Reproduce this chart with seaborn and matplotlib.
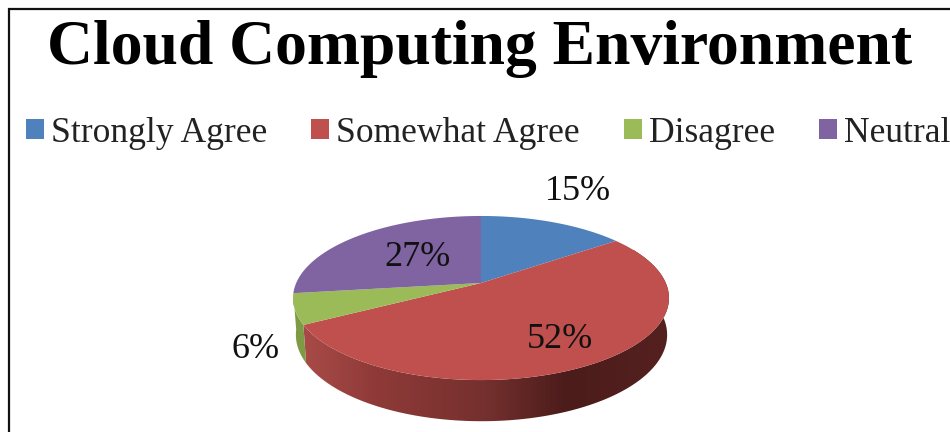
import numpy as np
import matplotlib
matplotlib.use("Agg")
import matplotlib.pyplot as plt
import seaborn as sns
from matplotlib.colors import LinearSegmentedColormap
from matplotlib.patches import Patch, Polygon
from matplotlib.path import Path
from matplotlib.transforms import Transform

# Chart content
TITLE = "Cloud Computing Environment"
categories = ["Strongly Agree", "Somewhat Agree", "Disagree", "Neutral"]
shares = [15, 52, 6, 27]
colors = ["#4f81bd", "#c0504d", "#9bbb59", "#8064a2"]
label_spots = [(578, 191), (560, 339), (256, 349), (418, 257)]

sns.set_theme(style="white")
plt.rcParams["font.family"] = ["Liberation Serif", "DejaVu Serif"]


def project(u, v, top=True):
    """Map unit-disc coordinates onto the tilted pie, in pixel-like data units."""
    k = 0.183
    d = 1 + k * v
    if top:
        return 481 + 184.8 * u / d, 283 - 79.3 * v / d
    return 481.5 + 182.5 * u / d, 319 - 83.5 * v / d


class TiltedDisc(Transform):
    input_dims = 2
    output_dims = 2
    is_separable = False
    has_inverse = False

    def transform_non_affine(self, values):
        x, y = project(values[:, 0], values[:, 1])
        return np.column_stack([x, y])

    def transform_path_non_affine(self, path):
        # Flatten the arc at a fine scale before bending it
        fine = Path(path.vertices * 2000, path.codes)
        pts = np.vstack(fine.to_polygons(closed_only=False)) / 2000
        return Path(self.transform_non_affine(pts))


fig = plt.figure(figsize=(9.5, 4.32), dpi=100)
ax = fig.add_axes([0, 0, 1, 1])

wedges, _ = ax.pie(shares, colors=colors, startangle=90, counterclock=False,
                   radius=1, wedgeprops={"linewidth": 0})
ax.set_aspect("auto")
ax.set_xlim(0, 950)
ax.set_ylim(432, 0)
tilt = TiltedDisc()
for w in wedges:
    w.set_transform(tilt + ax.transData)
    w.set_zorder(3)

# Side wall, built from the slice angles returned by the pie
red, green = wedges[1], wedges[2]


def wall_outline(a0, a1):
    t = np.radians(np.linspace(a0, a1, 160))
    top = np.column_stack(project(np.cos(t), np.sin(t)))
    low = np.column_stack(project(np.cos(t), np.sin(t), top=False))
    return np.vstack([top, low[::-1]])


# pie angles run clockwise here, so theta1 is the trailing edge of each slice
red_lo, red_hi = red.theta1 - 360, min(red.theta2 - 360, 20)
green_lo, green_hi = green.theta1 - 360, green.theta2 - 360

wall_cmap = LinearSegmentedColormap.from_list(
    "wall", [(0, "#a84b48"), (0.2, "#8f3a38"), (0.5, "#74302e"),
             (0.72, "#4b1c1a"), (1, "#552120")])
img = ax.imshow(np.linspace(0, 1, 256)[None, :], cmap=wall_cmap, aspect="auto",
                extent=[303, 669, 432, 250], zorder=2)
wall = Polygon(wall_outline(red_lo, red_hi), closed=True, transform=ax.transData,
               facecolor="none", edgecolor="none")
ax.add_patch(wall)
img.set_clip_path(wall)
ax.set_xlim(0, 950)
ax.set_ylim(432, 0)
ax.add_patch(Polygon(wall_outline(green_lo, green_hi), closed=True,
                     facecolor="#7f9a45", edgecolor="none", zorder=2))

# Percentage labels
for val, (x, y) in zip(shares, label_spots):
    ax.text(x, y, f"{val}%", fontsize=26, color="#111111", ha="center",
            va="center", zorder=5)

ax.text(480, 49, TITLE, fontsize=45.8, fontweight="bold", color="black",
        ha="center", va="center", zorder=5)

handles = [Patch(facecolor=c, edgecolor="none", label=n)
           for c, n in zip(colors, categories)]
fig.legend(handles=handles, loc="center left", bbox_to_anchor=(26 / 950, 1 - 133 / 432),
           ncols=4, frameon=False, fontsize=25.6, handlelength=0.5, handleheight=0.5,
           handletextpad=0.2, columnspacing=1.24, borderpad=0, borderaxespad=0,
           labelcolor="#222222")

# Chart frame: only the top and left edges fall inside the crop
ax.plot([8.5, 8.5, 950], [432, 8.5, 8.5], color="#111111", lw=1.6, zorder=6,
        solid_joinstyle="miter", clip_on=False)
ax.axis("off")

fig.savefig("out.png", dpi=100, facecolor="white")
